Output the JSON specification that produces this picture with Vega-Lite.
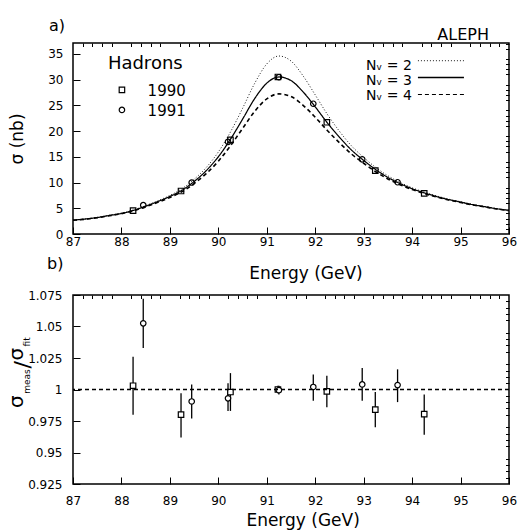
{
  "$schema": "https://vega.github.io/schema/vega-lite/v6.json",
  "background": "white",
  "autosize": {"type": "pad"},
  "padding": {"left": 6, "top": 17, "right": 5, "bottom": 0},
  "spacing": 61,
  "bounds": "flush",
  "config": {
    "font": "DejaVu Sans",
    "view": {"stroke": "black", "strokeWidth": 1.5},
    "style": {"guide-title": {"fontWeight": "normal"}},
    "axis": {"domain": false, "grid": false, "labelFont": "DejaVu Sans", "labelFontSize": 12, "labelColor": "black", "tickColor": "black", "tickWidth": 1, "labelFlush": false, "labelOverlap": false, "titleFont": "DejaVu Sans", "titleFontSize": 17, "titleFontWeight": 400, "titleColor": "black"}
  },
  "datasets": {
    "curves": [
      {"energy": 87, "sigma": 2.72, "nnu": "2"}, {"energy": 87.25, "sigma": 2.93, "nnu": "2"}, {"energy": 87.5, "sigma": 3.24, "nnu": "2"}, {"energy": 87.75, "sigma": 3.65, "nnu": "2"}, {"energy": 88, "sigma": 4.06, "nnu": "2"}, {"energy": 88.25, "sigma": 4.68, "nnu": "2"}, {"energy": 88.5, "sigma": 5.51, "nnu": "2"}, {"energy": 88.75, "sigma": 6.45, "nnu": "2"}, {"energy": 89, "sigma": 7.5, "nnu": "2"}, {"energy": 89.25, "sigma": 8.79, "nnu": "2"}, {"energy": 89.5, "sigma": 10.62, "nnu": "2"}, {"energy": 89.75, "sigma": 12.91, "nnu": "2"}, {"energy": 90, "sigma": 15.93, "nnu": "2"}, {"energy": 90.25, "sigma": 19.81, "nnu": "2"}, {"energy": 90.5, "sigma": 24.4, "nnu": "2"}, {"energy": 90.75, "sigma": 29.26, "nnu": "2"}, {"energy": 91, "sigma": 33.03, "nnu": "2"}, {"energy": 91.25, "sigma": 34.57, "nnu": "2"}, {"energy": 91.5, "sigma": 33.6, "nnu": "2"}, {"energy": 91.75, "sigma": 30.71, "nnu": "2"}, {"energy": 92, "sigma": 27.02, "nnu": "2"}, {"energy": 92.25, "sigma": 23.25, "nnu": "2"}, {"energy": 92.5, "sigma": 19.96, "nnu": "2"}, {"energy": 92.75, "sigma": 17.11, "nnu": "2"}, {"energy": 93, "sigma": 14.88, "nnu": "2"}, {"energy": 93.25, "sigma": 12.92, "nnu": "2"}, {"energy": 93.5, "sigma": 11.31, "nnu": "2"}, {"energy": 93.75, "sigma": 10.03, "nnu": "2"}, {"energy": 94, "sigma": 8.98, "nnu": "2"}, {"energy": 94.25, "sigma": 8.14, "nnu": "2"}, {"energy": 94.5, "sigma": 7.41, "nnu": "2"}, {"energy": 94.75, "sigma": 6.79, "nnu": "2"}, {"energy": 95, "sigma": 6.27, "nnu": "2"}, {"energy": 95.25, "sigma": 5.76, "nnu": "2"}, {"energy": 95.5, "sigma": 5.35, "nnu": "2"}, {"energy": 95.75, "sigma": 4.94, "nnu": "2"}, {"energy": 96, "sigma": 4.63, "nnu": "2"},
      {"energy": 87, "sigma": 2.7, "nnu": "3"}, {"energy": 87.25, "sigma": 2.9, "nnu": "3"}, {"energy": 87.5, "sigma": 3.2, "nnu": "3"}, {"energy": 87.75, "sigma": 3.6, "nnu": "3"}, {"energy": 88, "sigma": 4.0, "nnu": "3"}, {"energy": 88.25, "sigma": 4.6, "nnu": "3"}, {"energy": 88.5, "sigma": 5.4, "nnu": "3"}, {"energy": 88.75, "sigma": 6.3, "nnu": "3"}, {"energy": 89, "sigma": 7.3, "nnu": "3"}, {"energy": 89.25, "sigma": 8.5, "nnu": "3"}, {"energy": 89.5, "sigma": 10.2, "nnu": "3"}, {"energy": 89.75, "sigma": 12.3, "nnu": "3"}, {"energy": 90, "sigma": 15.0, "nnu": "3"}, {"energy": 90.25, "sigma": 18.4, "nnu": "3"}, {"energy": 90.5, "sigma": 22.3, "nnu": "3"}, {"energy": 90.75, "sigma": 26.3, "nnu": "3"}, {"energy": 91, "sigma": 29.3, "nnu": "3"}, {"energy": 91.25, "sigma": 30.5, "nnu": "3"}, {"energy": 91.5, "sigma": 29.8, "nnu": "3"}, {"energy": 91.75, "sigma": 27.6, "nnu": "3"}, {"energy": 92, "sigma": 24.7, "nnu": "3"}, {"energy": 92.25, "sigma": 21.6, "nnu": "3"}, {"energy": 92.5, "sigma": 18.8, "nnu": "3"}, {"energy": 92.75, "sigma": 16.3, "nnu": "3"}, {"energy": 93, "sigma": 14.3, "nnu": "3"}, {"energy": 93.25, "sigma": 12.5, "nnu": "3"}, {"energy": 93.5, "sigma": 11.0, "nnu": "3"}, {"energy": 93.75, "sigma": 9.8, "nnu": "3"}, {"energy": 94, "sigma": 8.8, "nnu": "3"}, {"energy": 94.25, "sigma": 8.0, "nnu": "3"}, {"energy": 94.5, "sigma": 7.3, "nnu": "3"}, {"energy": 94.75, "sigma": 6.7, "nnu": "3"}, {"energy": 95, "sigma": 6.2, "nnu": "3"}, {"energy": 95.25, "sigma": 5.7, "nnu": "3"}, {"energy": 95.5, "sigma": 5.3, "nnu": "3"}, {"energy": 95.75, "sigma": 4.9, "nnu": "3"}, {"energy": 96, "sigma": 4.6, "nnu": "3"},
      {"energy": 87, "sigma": 2.67, "nnu": "4"}, {"energy": 87.25, "sigma": 2.87, "nnu": "4"}, {"energy": 87.5, "sigma": 3.16, "nnu": "4"}, {"energy": 87.75, "sigma": 3.55, "nnu": "4"}, {"energy": 88, "sigma": 3.94, "nnu": "4"}, {"energy": 88.25, "sigma": 4.52, "nnu": "4"}, {"energy": 88.5, "sigma": 5.29, "nnu": "4"}, {"energy": 88.75, "sigma": 6.15, "nnu": "4"}, {"energy": 89, "sigma": 7.1, "nnu": "4"}, {"energy": 89.25, "sigma": 8.22, "nnu": "4"}, {"energy": 89.5, "sigma": 9.8, "nnu": "4"}, {"energy": 89.75, "sigma": 11.72, "nnu": "4"}, {"energy": 90, "sigma": 14.14, "nnu": "4"}, {"energy": 90.25, "sigma": 17.13, "nnu": "4"}, {"energy": 90.5, "sigma": 20.48, "nnu": "4"}, {"energy": 90.75, "sigma": 23.82, "nnu": "4"}, {"energy": 91, "sigma": 26.25, "nnu": "4"}, {"energy": 91.25, "sigma": 27.22, "nnu": "4"}, {"energy": 91.5, "sigma": 26.7, "nnu": "4"}, {"energy": 91.75, "sigma": 24.99, "nnu": "4"}, {"energy": 92, "sigma": 22.68, "nnu": "4"}, {"energy": 92.25, "sigma": 20.11, "nnu": "4"}, {"energy": 92.5, "sigma": 17.72, "nnu": "4"}, {"energy": 92.75, "sigma": 15.53, "nnu": "4"}, {"energy": 93, "sigma": 13.74, "nnu": "4"}, {"energy": 93.25, "sigma": 12.09, "nnu": "4"}, {"energy": 93.5, "sigma": 10.69, "nnu": "4"}, {"energy": 93.75, "sigma": 9.57, "nnu": "4"}, {"energy": 94, "sigma": 8.62, "nnu": "4"}, {"energy": 94.25, "sigma": 7.86, "nnu": "4"}, {"energy": 94.5, "sigma": 7.19, "nnu": "4"}, {"energy": 94.75, "sigma": 6.61, "nnu": "4"}, {"energy": 95, "sigma": 6.13, "nnu": "4"}, {"energy": 95.25, "sigma": 5.64, "nnu": "4"}, {"energy": 95.5, "sigma": 5.25, "nnu": "4"}, {"energy": 95.75, "sigma": 4.86, "nnu": "4"}, {"energy": 96, "sigma": 4.56, "nnu": "4"}
    ],
    "hadrons": [
      {"energy": 88.24, "sigma": 4.55, "year": "1990"}, {"energy": 89.23, "sigma": 8.35, "year": "1990"}, {"energy": 90.25, "sigma": 18.3, "year": "1990"}, {"energy": 91.23, "sigma": 30.5, "year": "1990"}, {"energy": 92.24, "sigma": 21.7, "year": "1990"}, {"energy": 93.24, "sigma": 12.3, "year": "1990"}, {"energy": 94.25, "sigma": 7.9, "year": "1990"},
      {"energy": 88.45, "sigma": 5.6, "year": "1991"}, {"energy": 89.45, "sigma": 10.0, "year": "1991"}, {"energy": 90.2, "sigma": 17.9, "year": "1991"}, {"energy": 91.25, "sigma": 30.45, "year": "1991"}, {"energy": 91.96, "sigma": 25.3, "year": "1991"}, {"energy": 92.97, "sigma": 14.5, "year": "1991"}, {"energy": 93.7, "sigma": 10.05, "year": "1991"}
    ],
    "ratios": [
      {"energy": 88.24, "ratio": 1.003, "lo": 0.98, "hi": 1.026, "year": "1990"}, {"energy": 89.23, "ratio": 0.98, "lo": 0.962, "hi": 0.997, "year": "1990"}, {"energy": 90.25, "ratio": 0.998, "lo": 0.983, "hi": 1.013, "year": "1990"}, {"energy": 91.23, "ratio": 1.0, "lo": 0.997, "hi": 1.003, "year": "1990"}, {"energy": 92.24, "ratio": 0.9985, "lo": 0.986, "hi": 1.011, "year": "1990"}, {"energy": 93.24, "ratio": 0.984, "lo": 0.97, "hi": 0.998, "year": "1990"}, {"energy": 94.25, "ratio": 0.9805, "lo": 0.964, "hi": 0.996, "year": "1990"},
      {"energy": 88.45, "ratio": 1.0525, "lo": 1.033, "hi": 1.072, "year": "1991"}, {"energy": 89.45, "ratio": 0.9905, "lo": 0.977, "hi": 1.004, "year": "1991"}, {"energy": 90.2, "ratio": 0.993, "lo": 0.983, "hi": 1.005, "year": "1991"}, {"energy": 91.25, "ratio": 0.9995, "lo": 0.996, "hi": 1.003, "year": "1991"}, {"energy": 91.96, "ratio": 1.002, "lo": 0.991, "hi": 1.012, "year": "1991"}, {"energy": 92.97, "ratio": 1.004, "lo": 0.991, "hi": 1.017, "year": "1991"}, {"energy": 93.7, "ratio": 1.0035, "lo": 0.99, "hi": 1.016, "year": "1991"}
    ],
    "one": [{}]
  },
  "vconcat": [
    {
      "width": 436, "height": 191,
      "layer": [
        {
          "data": {"name": "curves"},
          "mark": {"type": "line", "color": "black", "interpolate": "monotone"},
          "encoding": {
            "x": {"field": "energy", "type": "quantitative", "scale": {"domain": [87, 96], "nice": false, "zero": false},
                  "axis": {"values": [87, 88, 89, 90, 91, 92, 93, 94, 95, 96], "format": "d", "tickSize": -7, "labelPadding": 9, "title": null}},
            "y": {"field": "sigma", "type": "quantitative", "scale": {"domain": [0, 37.1], "nice": false},
                  "axis": {"values": [0, 5, 10, 15, 20, 25, 30, 35], "format": "d", "tickSize": -7, "labelPadding": 17, "title": "σ (nb)", "titleFontWeight": 400, "titlePadding": 21}},
            "strokeDash": {"field": "nnu", "type": "nominal", "scale": {"domain": ["2", "3", "4"], "range": [[1, 2], [1, 0], [4, 3]]}, "legend": null},
            "strokeWidth": {"field": "nnu", "type": "ordinal", "scale": {"domain": ["2", "3", "4"], "range": [0.9, 1.6, 1.1]}, "legend": null}
          }
        },
        {
          "data": {"name": "hadrons"},
          "mark": {"type": "point", "filled": false, "color": "black", "strokeWidth": 1.2, "size": 30, "opacity": 1},
          "encoding": {
            "x": {"field": "energy", "type": "quantitative", "scale": {"domain": [87, 96], "nice": false, "zero": false},
                  "axis": {"values": [87.2,87.4,87.6,87.8,88.2,88.4,88.6,88.8,89.2,89.4,89.6,89.8,90.2,90.4,90.6,90.8,91.2,91.4,91.6,91.8,92.2,92.4,92.6,92.8,93.2,93.4,93.6,93.8,94.2,94.4,94.6,94.8,95.2,95.4,95.6,95.8], "labels": false, "tickSize": -3.5, "title": null}},
            "y": {"field": "sigma", "type": "quantitative", "scale": {"domain": [0, 37.1], "nice": false},
                  "axis": {"values": [1,2,3,4,6,7,8,9,11,12,13,14,16,17,18,19,21,22,23,24,26,27,28,29,31,32,33,34,36,37], "labels": false, "tickSize": -3.5, "title": null}},
            "shape": {"field": "year", "type": "nominal", "scale": {"domain": ["1990", "1991"], "range": ["square", "circle"]}, "legend": null}
          }
        },
        {
          "data": {"name": "one"},
          "mark": {"type": "point", "shape": "square", "filled": false, "color": "black", "strokeWidth": 1.2, "size": 30, "opacity": 1},
          "encoding": {"x": {"datum": 88.01, "axis": null}, "y": {"datum": 28.0, "axis": null}}
        },
        {
          "data": {"name": "one"},
          "mark": {"type": "point", "shape": "circle", "filled": false, "color": "black", "strokeWidth": 1.2, "size": 30, "opacity": 1},
          "encoding": {"x": {"datum": 88.01, "axis": null}, "y": {"datum": 24.1, "axis": null}}
        },
        {
          "data": {"name": "one"},
          "mark": {"type": "text", "text": "Hadrons", "align": "left", "baseline": "alphabetic", "fontSize": 18, "font": "DejaVu Sans", "color": "black"},
          "encoding": {"x": {"datum": 87.72, "axis": null}, "y": {"datum": 32.1, "axis": null}}
        },
        {
          "data": {"name": "one"},
          "mark": {"type": "text", "text": "1990", "align": "left", "baseline": "alphabetic", "fontSize": 15, "font": "DejaVu Sans", "color": "black"},
          "encoding": {"x": {"datum": 88.54, "axis": null}, "y": {"datum": 26.85, "axis": null}}
        },
        {
          "data": {"name": "one"},
          "mark": {"type": "text", "text": "1991", "align": "left", "baseline": "alphabetic", "fontSize": 15, "font": "DejaVu Sans", "color": "black"},
          "encoding": {"x": {"datum": 88.54, "axis": null}, "y": {"datum": 22.96, "axis": null}}
        },
        {
          "data": {"name": "one"},
          "mark": {"type": "text", "text": "Nᵥ = 2", "align": "left", "baseline": "alphabetic", "fontSize": 14, "font": "DejaVu Sans", "color": "black"},
          "encoding": {"x": {"datum": 93.05, "axis": null}, "y": {"datum": 31.8, "axis": null}}
        },
        {
          "data": {"name": "one"},
          "mark": {"type": "text", "text": "Nᵥ = 3", "align": "left", "baseline": "alphabetic", "fontSize": 14, "font": "DejaVu Sans", "color": "black"},
          "encoding": {"x": {"datum": 93.05, "axis": null}, "y": {"datum": 29.0, "axis": null}}
        },
        {
          "data": {"name": "one"},
          "mark": {"type": "text", "text": "Nᵥ = 4", "align": "left", "baseline": "alphabetic", "fontSize": 14, "font": "DejaVu Sans", "color": "black"},
          "encoding": {"x": {"datum": 93.05, "axis": null}, "y": {"datum": 26.1, "axis": null}}
        },
        {
          "data": {"name": "one"},
          "mark": {"type": "rule", "color": "black", "strokeWidth": 0.9, "strokeDash": [1, 2]},
          "encoding": {"x": {"datum": 94.12, "axis": null}, "x2": {"datum": 95.07}, "y": {"datum": 33.66, "axis": null}}
        },
        {
          "data": {"name": "one"},
          "mark": {"type": "rule", "color": "black", "strokeWidth": 1.6},
          "encoding": {"x": {"datum": 94.12, "axis": null}, "x2": {"datum": 95.07}, "y": {"datum": 30.4, "axis": null}}
        },
        {
          "data": {"name": "one"},
          "mark": {"type": "rule", "color": "black", "strokeWidth": 1.1, "strokeDash": [4, 3]},
          "encoding": {"x": {"datum": 94.12, "axis": null}, "x2": {"datum": 95.07}, "y": {"datum": 27.1, "axis": null}}
        },
        {
          "data": {"name": "one"},
          "mark": {"type": "text", "text": "a)", "align": "left", "baseline": "alphabetic", "fontSize": 16, "font": "DejaVu Sans", "color": "black", "dx": -24, "dy": -12},
          "encoding": {"x": {"datum": 87, "axis": null}, "y": {"datum": 37.1, "axis": null}}
        },
        {
          "data": {"name": "one"},
          "mark": {"type": "text", "text": "ALEPH", "align": "right", "baseline": "alphabetic", "fontSize": 16, "font": "DejaVu Sans", "color": "black", "dx": -20, "dy": -3},
          "encoding": {"x": {"datum": 96, "axis": null}, "y": {"datum": 37.1, "axis": null}}
        },
        {
          "data": {"name": "one"},
          "mark": {"type": "text", "text": "Energy (GeV)", "align": "center", "baseline": "alphabetic", "fontSize": 17, "fontWeight": "normal", "font": "DejaVu Sans", "color": "black", "dy": 45},
          "encoding": {"x": {"datum": 91.81, "axis": null}, "y": {"datum": 0, "axis": null}}
        }
      ],
      "resolve": {"axis": {"x": "independent", "y": "independent"}}
    },
    {
      "width": 436, "height": 189,
      "layer": [
        {
          "data": {"name": "ratios"},
          "mark": {"type": "rule", "color": "black", "strokeWidth": 1.3},
          "encoding": {
            "x": {"field": "energy", "type": "quantitative", "scale": {"domain": [87, 96], "nice": false, "zero": false},
                  "axis": {"values": [87, 88, 89, 90, 91, 92, 93, 94, 95, 96], "format": "d", "tickSize": -7, "labelPadding": 18, "title": null}},
            "y": {"field": "lo", "type": "quantitative", "scale": {"domain": [0.925, 1.075], "nice": false, "zero": false},
                  "axis": {"values": [0.925, 0.95, 0.975, 1, 1.025, 1.05, 1.075], "labelExpr": "format(datum.value, '.3~f')", "tickSize": -7, "labelPadding": 18, "title": null}},
            "y2": {"field": "hi"}
          }
        },
        {
          "data": {"name": "ratios"},
          "mark": {"type": "point", "filled": true, "fill": "white", "stroke": "black", "strokeWidth": 1.2, "size": 30, "opacity": 1},
          "encoding": {
            "x": {"field": "energy", "type": "quantitative", "scale": {"domain": [87, 96], "nice": false, "zero": false},
                  "axis": {"values": [87.2,87.4,87.6,87.8,88.2,88.4,88.6,88.8,89.2,89.4,89.6,89.8,90.2,90.4,90.6,90.8,91.2,91.4,91.6,91.8,92.2,92.4,92.6,92.8,93.2,93.4,93.6,93.8,94.2,94.4,94.6,94.8,95.2,95.4,95.6,95.8], "labels": false, "tickSize": -3.5, "title": null}},
            "y": {"field": "ratio", "type": "quantitative", "scale": {"domain": [0.925, 1.075], "nice": false, "zero": false},
                  "axis": {"values": [0.93,0.935,0.94,0.945,0.955,0.96,0.965,0.97,0.98,0.985,0.99,0.995,1.005,1.01,1.015,1.02,1.03,1.035,1.04,1.045,1.055,1.06,1.065,1.07], "labels": false, "tickSize": -3.5, "title": null}},
            "shape": {"field": "year", "type": "nominal", "scale": {"domain": ["1990", "1991"], "range": ["square", "circle"]}, "legend": null}
          }
        },
        {
          "data": {"name": "one"},
          "mark": {"type": "rule", "color": "black", "strokeWidth": 1.3, "strokeDash": [4, 3]},
          "encoding": {"y": {"datum": 1, "axis": null}}
        },
        {
          "data": {"name": "one"},
          "mark": {"type": "text", "text": "b)", "align": "left", "baseline": "alphabetic", "fontSize": 16, "font": "DejaVu Sans", "color": "black", "dx": -26, "dy": -26},
          "encoding": {"x": {"datum": 87, "axis": null}, "y": {"datum": 1.075, "axis": null}}
        },
        {
          "data": {"name": "one"},
          "mark": {"type": "text", "text": "Energy (GeV)", "align": "center", "baseline": "alphabetic", "fontSize": 17, "fontWeight": "normal", "font": "DejaVu Sans", "color": "black", "dy": 42},
          "encoding": {"x": {"datum": 91.75, "axis": null}, "y": {"datum": 0.925, "axis": null}}
        },
        {
          "data": {"name": "one"},
          "mark": {"type": "text", "text": "σ", "angle": 270, "align": "left", "baseline": "alphabetic", "fontSize": 20, "font": "DejaVu Sans", "color": "black", "dy": -50},
          "encoding": {"x": {"datum": 87, "axis": null}, "y": {"datum": 0.98531, "axis": null}}
        },
        {
          "data": {"name": "one"},
          "mark": {"type": "text", "text": "meas", "angle": 270, "align": "left", "baseline": "alphabetic", "fontSize": 9, "font": "DejaVu Sans", "color": "black", "dy": -43},
          "encoding": {"x": {"datum": 87, "axis": null}, "y": {"datum": 0.99666, "axis": null}}
        },
        {
          "data": {"name": "one"},
          "mark": {"type": "text", "text": "/", "angle": 270, "align": "left", "baseline": "alphabetic", "fontSize": 22, "font": "DejaVu Sans", "color": "black", "dy": -43},
          "encoding": {"x": {"datum": 87, "axis": null}, "y": {"datum": 1.01666, "axis": null}}
        },
        {
          "data": {"name": "one"},
          "mark": {"type": "text", "text": "σ", "angle": 270, "align": "left", "baseline": "alphabetic", "fontSize": 20, "font": "DejaVu Sans", "color": "black", "dy": -50},
          "encoding": {"x": {"datum": 87, "axis": null}, "y": {"datum": 1.02301, "axis": null}}
        },
        {
          "data": {"name": "one"},
          "mark": {"type": "text", "text": "fit", "angle": 270, "align": "left", "baseline": "alphabetic", "fontSize": 9, "font": "DejaVu Sans", "color": "black", "dy": -43},
          "encoding": {"x": {"datum": 87, "axis": null}, "y": {"datum": 1.03412, "axis": null}}
        }
      ],
      "resolve": {"axis": {"x": "independent", "y": "independent"}}
    }
  ]
}
